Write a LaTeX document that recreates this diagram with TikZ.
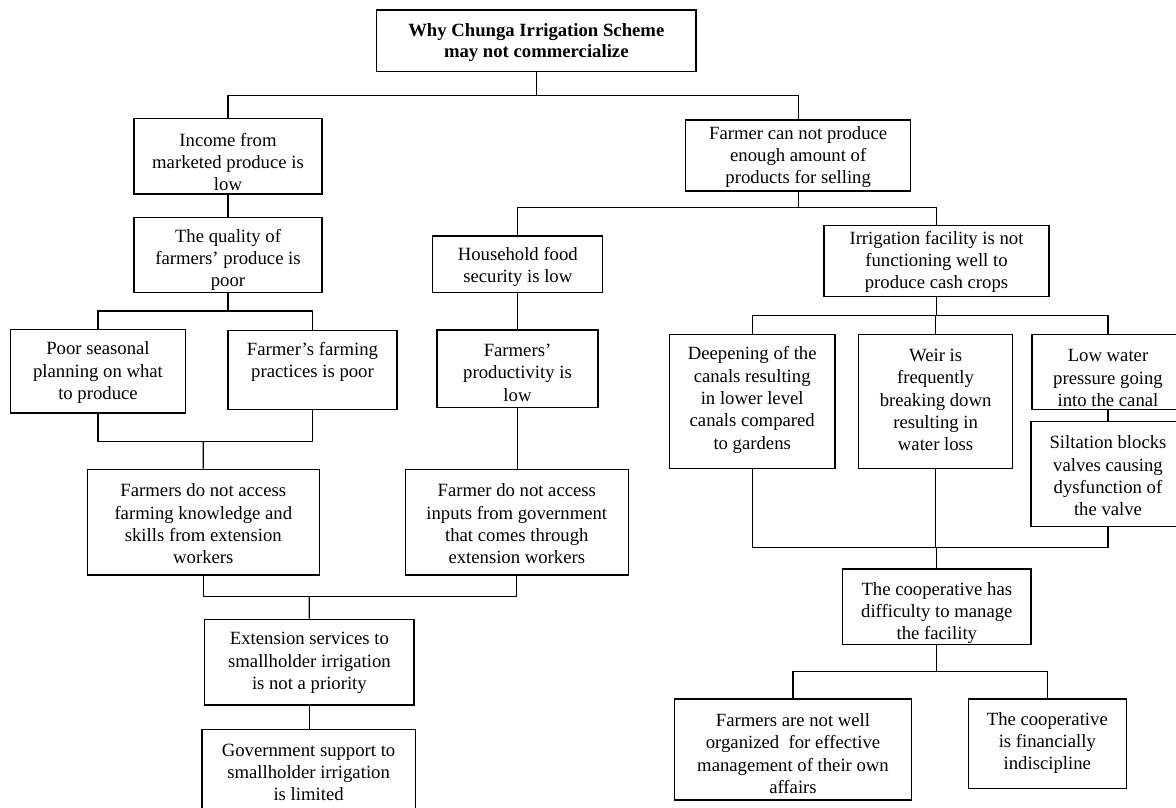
\documentclass[tikz,border=0pt]{standalone}
\usepackage{fontspec}
\setmainfont{Liberation Serif}
\newcommand\mkbox[5]{\node[box, minimum width={(#4-#2)*1pt}, minimum height={(#5-#3)*1pt}] (#1) at ({(#2+#4)/2},{(#3+#5)/2}) {};}
\begin{document}
\begin{tikzpicture}[x=1pt,y=-1pt,
  box/.style={draw, line width=1.3pt, inner sep=0pt, rectangle},
  txt/.style={align=center, inner sep=0pt, font=\fontsize{18.7}{22.3}\selectfont},
  conn/.style={line width=1.3pt}]
\useasboundingbox (0,0) rectangle (1176,807);
\clip (0,0) rectangle (1176,807);

% boxes
\mkbox{title}{376.6}{10}{696}{71.7}
\mkbox{income}{134}{118.7}{322}{194}
\mkbox{farmer}{685.7}{120}{910.7}{191}
\mkbox{quality}{134}{217.3}{322}{292.7}
\mkbox{household}{432.8}{236}{602.8}{292.3}
\mkbox{irrig}{824}{225.3}{1049}{296.3}
\mkbox{poor}{10.3}{329.3}{185.6}{413}
\mkbox{practices}{228}{330.7}{397}{409.3}
\mkbox{product}{437}{330}{597.9}{407.3}
\mkbox{deepen}{669.3}{334.3}{835}{468.7}
\mkbox{weir}{858.6}{334.3}{1012.5}{468.7}
\mkbox{lowwater}{1032}{334.3}{1184}{409.3}
\mkbox{silt}{1031}{421.7}{1185}{526.3}
\mkbox{access}{87.3}{469.3}{319.2}{575}
\mkbox{inputs}{405.3}{469.3}{628.3}{575}
\mkbox{extension}{204.7}{619.3}{414}{705}
\mkbox{govt}{202}{729.3}{415.2}{816}
\mkbox{coop}{842.6}{569}{1031}{644.3}
\mkbox{organized}{674.6}{699}{911.4}{800}
\mkbox{financial}{968.4}{699}{1126.2}{788.3}

% texts
\node[txt, font=\fontsize{18.7}{21.6}\selectfont\bfseries] (titlet) at (536.3,42.5) {Why Chunga Irrigation Scheme\\may not commercialize};
\node[txt] (incomet) at (228,162) {Income from\\marketed produce is\\low};
\node[txt] (farmert) at (798.2,157) {Farmer can not produce\\enough amount of\\products for selling};
\node[txt] (qualityt) at (228,260) {The quality of\\farmers’ produce is\\poor};
\node[txt] (householdt) at (517.8,267) {Household food\\security is low};
\node[txt] (irrigt) at (936.5,262) {Irrigation facility is not\\functioning well to\\produce cash crops};
\node[txt] (poort) at (98,372.6) {Poor seasonal\\planning on what\\to produce};
\node[txt] (practicest) at (312.5,362) {Farmer’s farming\\practices is poor};
\node[txt] (productt) at (517.5,372.7) {Farmers’\\productivity is\\low};
\node[txt] (deepent) at (752.2,400) {Deepening of the\\canals resulting\\in lower level\\canals compared\\to gardens};
\node[txt] (weirt) at (935.6,400) {Weir is\\frequently\\breaking down\\resulting in\\water loss};
\node[txt] (lowwatert) at (1108,378) {Low water\\pressure going\\into the canal};
\node[txt] (siltt) at (1108,476) {Siltation blocks\\valves causing\\dysfunction of\\the valve};
\node[txt] (accesst) at (203.3,524) {Farmers do not access\\farming knowledge and\\skills from extension\\workers};
\node[txt] (inputst) at (516.8,524) {Farmer do not access\\inputs from government\\that comes through\\extension workers};
\node[txt] (extensiont) at (309.4,663) {Extension services to\\smallholder irrigation\\is not a priority};
\node[txt] (govtt) at (308.6,772.5) {Government support to\\smallholder irrigation\\is limited};
\node[txt] (coopt) at (936.8,613) {The cooperative has\\difficulty to manage\\the facility};
\node[txt] (organizedt) at (793,753.5) {Farmers are not well\\organized\ \ for effective\\management of their own\\affairs};
\node[txt] (financialt) at (1047.3,743) {The cooperative\\is financially\\indiscipline};

% connectors
\coordinate (j1) at (536.3,95.5);
\draw[conn] (title.south) -- (j1);
\draw[conn] (income.north) |- (j1) -| (farmer.north);
\draw[conn] (income.south) -- (quality.north);
\coordinate (j2) at (228,311);
\draw[conn] (quality.south) -- (j2);
\draw[conn] (poor.north) |- (j2) -| (practices.north);
\coordinate (j3) at (203.3,441.7);
\draw[conn] (poor.south) |- (j3) -| (practices.south);
\draw[conn] (j3) -- (access.north);
\coordinate (j4) at (798.2,207.3);
\draw[conn] (farmer.south) -- (j4);
\draw[conn] (household.north) |- (j4) -| (irrig.north);
\draw[conn] (household.south) -- (household.south |- product.north);
\draw[conn] (product.south) -- (product.south |- inputs.north);
\coordinate (j5) at (309.3,596.7);
\draw[conn] (access.south) |- (j5) -| (inputs.south);
\draw[conn] (j5) -- (extension.north);
\draw[conn] (extension.south) -- (extension.south |- govt.north);
\coordinate (j6) at (936.5,315.3);
\draw[conn] (irrig.south) -- (j6);
\draw[conn] (deepen.north) |- (j6) -| (lowwater.north);
\draw[conn] (weir.north) -- (weir.north |- j6);
\draw[conn] (lowwater.south) -- (silt.north);
\coordinate (j7) at (936.8,547.7);
\draw[conn] (deepen.south) |- (j7) -| (silt.south);
\draw[conn] (weir.south) -- (weir.south |- j7);
\draw[conn] (j7) -- (coop.north);
\coordinate (j8) at (936.8,671.7);
\draw[conn] (coop.south) -- (j8);
\draw[conn] (organized.north) |- (j8) -| (financial.north);
\end{tikzpicture}
\end{document}
